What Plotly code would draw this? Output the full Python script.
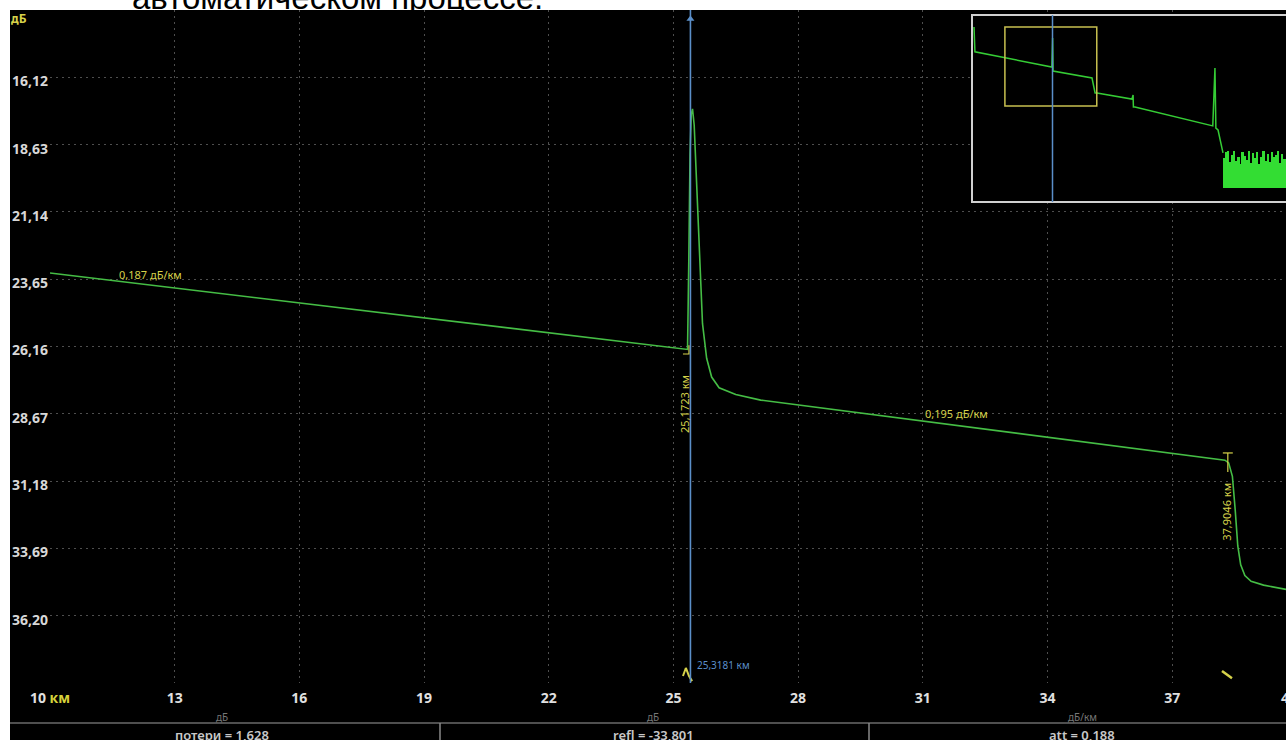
import plotly.graph_objects as go

# ---------------- data ----------------
# main OTDR trace: distance (km) / level (dB)
trace_km = [10.0, 25.30, 25.34, 25.37, 25.40, 25.43, 25.46, 25.50, 25.55, 25.62, 25.70,
            25.80, 25.92, 26.10, 26.50, 27.10, 34.80, 38.27, 38.36, 38.45, 38.52, 38.58,
            38.65, 38.75, 38.90, 39.20, 39.74]
trace_db = [23.42, 26.25, 26.27, 23.0, 19.0, 17.5, 17.3, 17.9, 19.8, 22.8, 25.3,
            26.6, 27.3, 27.7, 27.95, 28.16, 29.72, 30.40, 30.50, 31.0, 32.3, 33.6,
            34.3, 34.7, 34.92, 35.06, 35.22]

# overview (inset) trace
inset_km = [0.0, 0.1, 0.3, 25.2, 25.45, 25.6, 38.2, 39.2, 39.8, 51.1, 51.5, 51.6, 52.1,
            77.3, 78.0, 78.3, 79.0, 80.6]
inset_db = [13.6, 20.9, 21.5, 26.3, 17.1, 27.6, 29.8, 34.6, 34.6, 36.5, 35.2, 39.0, 39.0,
            45.0, 26.6, 45.7, 46.3, 53.6]

# inset noise floor (bars)
noise_km = [80.9, 81.6, 82.3, 82.9, 83.6, 84.3, 85.0, 85.7, 86.3, 87.0, 87.7, 88.4, 89.1, 89.7,
            90.4, 91.1, 91.8, 92.5, 93.1, 93.8, 94.5, 95.2, 95.9, 96.5, 97.2, 97.9, 98.6, 99.3,
            99.9, 100.6]
noise_top_db = [55.2, 53.4, 53.0, 56.6, 54.4, 52.9, 56.0, 54.9, 57.0, 53.4, 54.6, 55.9, 53.1, 56.8,
                53.6, 55.1, 53.2, 57.1, 54.8, 53.0, 56.2, 54.0, 56.6, 53.3, 55.0, 54.2, 53.1, 56.9,
                53.8, 55.6]
noise_floor_db = 64.7

# axes
x_tick_vals = [10, 13, 16, 19, 22, 25, 28, 31, 34, 37]
x_tick_text = ["10 <span style='color:#d6d23a'>км</span>", "13", "16", "19", "22", "25",
               "28", "31", "34", "37"]
y_tick_vals = [13.61, 16.12, 18.63, 21.14, 23.65, 26.16, 28.67, 31.18, 33.69, 36.20, 38.71]
y_tick_text = ["", "16,12", "18,63", "21,14", "23,65", "26,16", "28,67", "31,18", "33,69",
               "36,20", ""]
x_range = [10, 39.74]
y_range = [38.71, 13.61]

# events / cursor
cursor_km = 25.41
cursor_label = "25,3181 км"
event1_km, event1_db, event1_label = 25.28, 28.30, "25,1723 км"
event2_km, event2_db, event2_label = 38.31, 32.34, "37,9046 км"
slope1_label, slope1_km, slope1_db = "0,187 дБ/км", 12.43, 23.46
slope2_label, slope2_km, slope2_db = "0,195 дБ/км", 31.82, 28.64
status_texts = ["потери = 1,628", "refl = -33,801", "att = 0,188"]
status_units = ["дБ", "дБ", "дБ/км"]
status_centers = [222, 653, 1082]

# ---------------- figure ----------------
W, H = 1286, 740
L, T, B = 50, 10, 57
PW, PH = W - L, H - T - B


def px(X):
    return (X - L) / PW


def py(Y):
    return (H - B - Y) / PH


GREEN = "#45bd45"
YELLOW = "#d6d24a"
BLUE = "#5b8fc9"

fig = go.Figure()

fig.add_trace(go.Scatter(x=trace_km, y=trace_db, mode="lines",
                         line=dict(color=GREEN, width=1.6), hoverinfo="skip"))

# event glyphs (yellow)
fig.add_trace(go.Scatter(x=[25.23, 25.375, 25.375], y=[26.44, 26.44, 26.11], mode="lines",
                         line=dict(color=YELLOW, width=1.2), hoverinfo="skip"))
fig.add_trace(go.Scatter(x=[38.22, 38.46, None, 38.34, 38.34], y=[30.13, 30.13, None, 30.13, 30.84],
                         mode="lines", line=dict(color=YELLOW, width=1.2), hoverinfo="skip"))
fig.add_trace(go.Scatter(x=[25.23, 25.30, 25.375, 25.45], y=[38.45, 38.15, 38.45, 38.64],
                         mode="lines", line=dict(color=YELLOW, width=2), hoverinfo="skip"))
fig.add_trace(go.Scatter(x=[38.20, 38.44], y=[38.26, 38.53], mode="lines",
                         line=dict(color=YELLOW, width=2.5), hoverinfo="skip"))
# cursor arrow head
fig.add_trace(go.Scatter(x=[cursor_km], y=[13.95], mode="markers",
                         marker=dict(symbol="triangle-up", size=7, color=BLUE), hoverinfo="skip"))

# inset traces
fig.add_trace(go.Scatter(x=inset_km, y=inset_db, mode="lines", xaxis="x2", yaxis="y2",
                         line=dict(color="#35cc35", width=1.5), hoverinfo="skip"))
fig.add_trace(go.Bar(x=noise_km, y=[t - noise_floor_db for t in noise_top_db], base=noise_floor_db,
                     width=0.5, marker=dict(color="#33dd33", line=dict(width=0)),
                     xaxis="x2", yaxis="y2", hoverinfo="skip"))

shapes = [
    # inset background & border
    dict(type="rect", xref="x2 domain", yref="y2 domain", x0=0, x1=1.05, y0=0, y1=1,
         fillcolor="black", line=dict(width=0), layer="below"),
    dict(type="rect", xref="x2 domain", yref="y2 domain", x0=0, x1=1.05, y0=0, y1=1,
         line=dict(color="#d0d0d0", width=2), layer="above"),
    # inset zoom window
    dict(type="rect", xref="x2", yref="y2", x0=x_range[0], x1=x_range[1],
         y0=y_range[1], y1=y_range[0], line=dict(color="#c8c050", width=1.5)),
    # inset cursor
    dict(type="line", xref="x2", yref="y2 domain", x0=cursor_km, x1=cursor_km, y0=0, y1=1,
         line=dict(color=BLUE, width=1.5)),
    # main cursor
    dict(type="line", xref="x", yref="y domain", x0=cursor_km, x1=cursor_km, y0=0, y1=1,
         line=dict(color=BLUE, width=1.6), layer="above"),
    # white frame of screenshot (top band + left strip)
    dict(type="rect", xref="paper", yref="paper", x0=px(-5), x1=px(W + 5), y0=py(10), y1=py(-5),
         fillcolor="white", line=dict(width=0), layer="above"),
    dict(type="rect", xref="paper", yref="paper", x0=px(-5), x1=px(10), y0=py(H + 5), y1=py(-5),
         fillcolor="white", line=dict(width=0), layer="above"),
    # status bar line and separators
    dict(type="line", xref="paper", yref="paper", x0=px(10), x1=px(W), y0=py(723), y1=py(723),
         line=dict(color="#6a6a6a", width=1.5)),
    dict(type="line", xref="paper", yref="paper", x0=px(440), x1=px(440), y0=py(723), y1=py(H),
         line=dict(color="#8a8a8a", width=1.5)),
    dict(type="line", xref="paper", yref="paper", x0=px(869), x1=px(869), y0=py(723), y1=py(H),
         line=dict(color="#8a8a8a", width=1.5)),
]

annotations = [
    dict(text=event1_label, x=event1_km, y=event1_db, xref="x", yref="y", showarrow=False,
         textangle=-90, font=dict(family="Noto Sans", size=11, color=YELLOW)),
    dict(text=event2_label, x=event2_km, y=event2_db, xref="x", yref="y", showarrow=False,
         textangle=-90, font=dict(family="Noto Sans", size=11, color=YELLOW)),
    dict(text=slope1_label, x=slope1_km, y=slope1_db, xref="x", yref="y", showarrow=False,
         font=dict(family="Noto Sans", size=11, color=YELLOW)),
    dict(text=slope2_label, x=slope2_km, y=slope2_db, xref="x", yref="y", showarrow=False,
         font=dict(family="Noto Sans", size=11, color=YELLOW)),
    dict(text=cursor_label, x=cursor_km + 0.12, y=38.04, xref="x", yref="y", showarrow=False,
         xanchor="left", font=dict(family="Noto Sans", size=10, color=BLUE)),
    dict(text="<b>дБ</b>", x=px(9), y=py(19), xref="paper", yref="paper", showarrow=False,
         xanchor="left", yanchor="middle", font=dict(family="Noto Sans", size=12, color=YELLOW)),
    dict(text="4", x=px(1279), y=py(697), xref="paper", yref="paper", showarrow=False,
         xanchor="left", yanchor="middle",
         font=dict(family="Open Sans", size=14, color="#e0e0e0", weight=700)),
    dict(text="автоматическом процессе.", x=px(130), y=py(18), xref="paper", yref="paper",
         showarrow=False, xanchor="left", yanchor="bottom",
         font=dict(family="Liberation Sans", size=33, color="black")),
]
for txt, unit, cx in zip(status_texts, status_units, status_centers):
    annotations.append(dict(text=unit, x=px(cx), y=py(717), xref="paper", yref="paper",
                            showarrow=False, xanchor="center", yanchor="middle",
                            font=dict(family="Noto Sans", size=10, color="#777777")))
    annotations.append(dict(text=txt, x=px(cx), y=py(735), xref="paper", yref="paper",
                            showarrow=False, xanchor="center", yanchor="middle",
                            font=dict(family="Noto Sans", size=13, color="#c8c8c8", weight=600)))

grid = dict(showgrid=True, gridcolor="#4e4e4e", gridwidth=1, griddash="2px,4px",
            zeroline=False, showline=False, ticks="")

fig.update_layout(
    width=W, height=H, margin=dict(l=L, r=0, t=T, b=B, pad=0),
    paper_bgcolor="black", plot_bgcolor="black", showlegend=False,
    xaxis=dict(range=x_range, tickvals=x_tick_vals, ticktext=x_tick_text, **grid,
               ticklabelstandoff=5,
               tickfont=dict(family="Open Sans", size=14, color="#e0e0e0", weight=700)),
    yaxis=dict(range=y_range, tickvals=y_tick_vals, ticktext=y_tick_text, **grid,
               ticklabelstandoff=1, ticklabelshift=-4,
               tickfont=dict(family="Open Sans", size=14, color="#d8d8d8", weight=700)),
    xaxis2=dict(domain=[px(972), 1], range=[-0.65, 101.0], visible=False, anchor="y2"),
    yaxis2=dict(domain=[py(202), py(15)], range=[69.17, 9.80], visible=False, anchor="x2"),
    shapes=shapes, annotations=annotations, bargap=0,
)

fig.write_html("out.html", config={"displayModeBar": False},
               post_script="document.body.style.margin='0';document.body.style.overflow='hidden';")
